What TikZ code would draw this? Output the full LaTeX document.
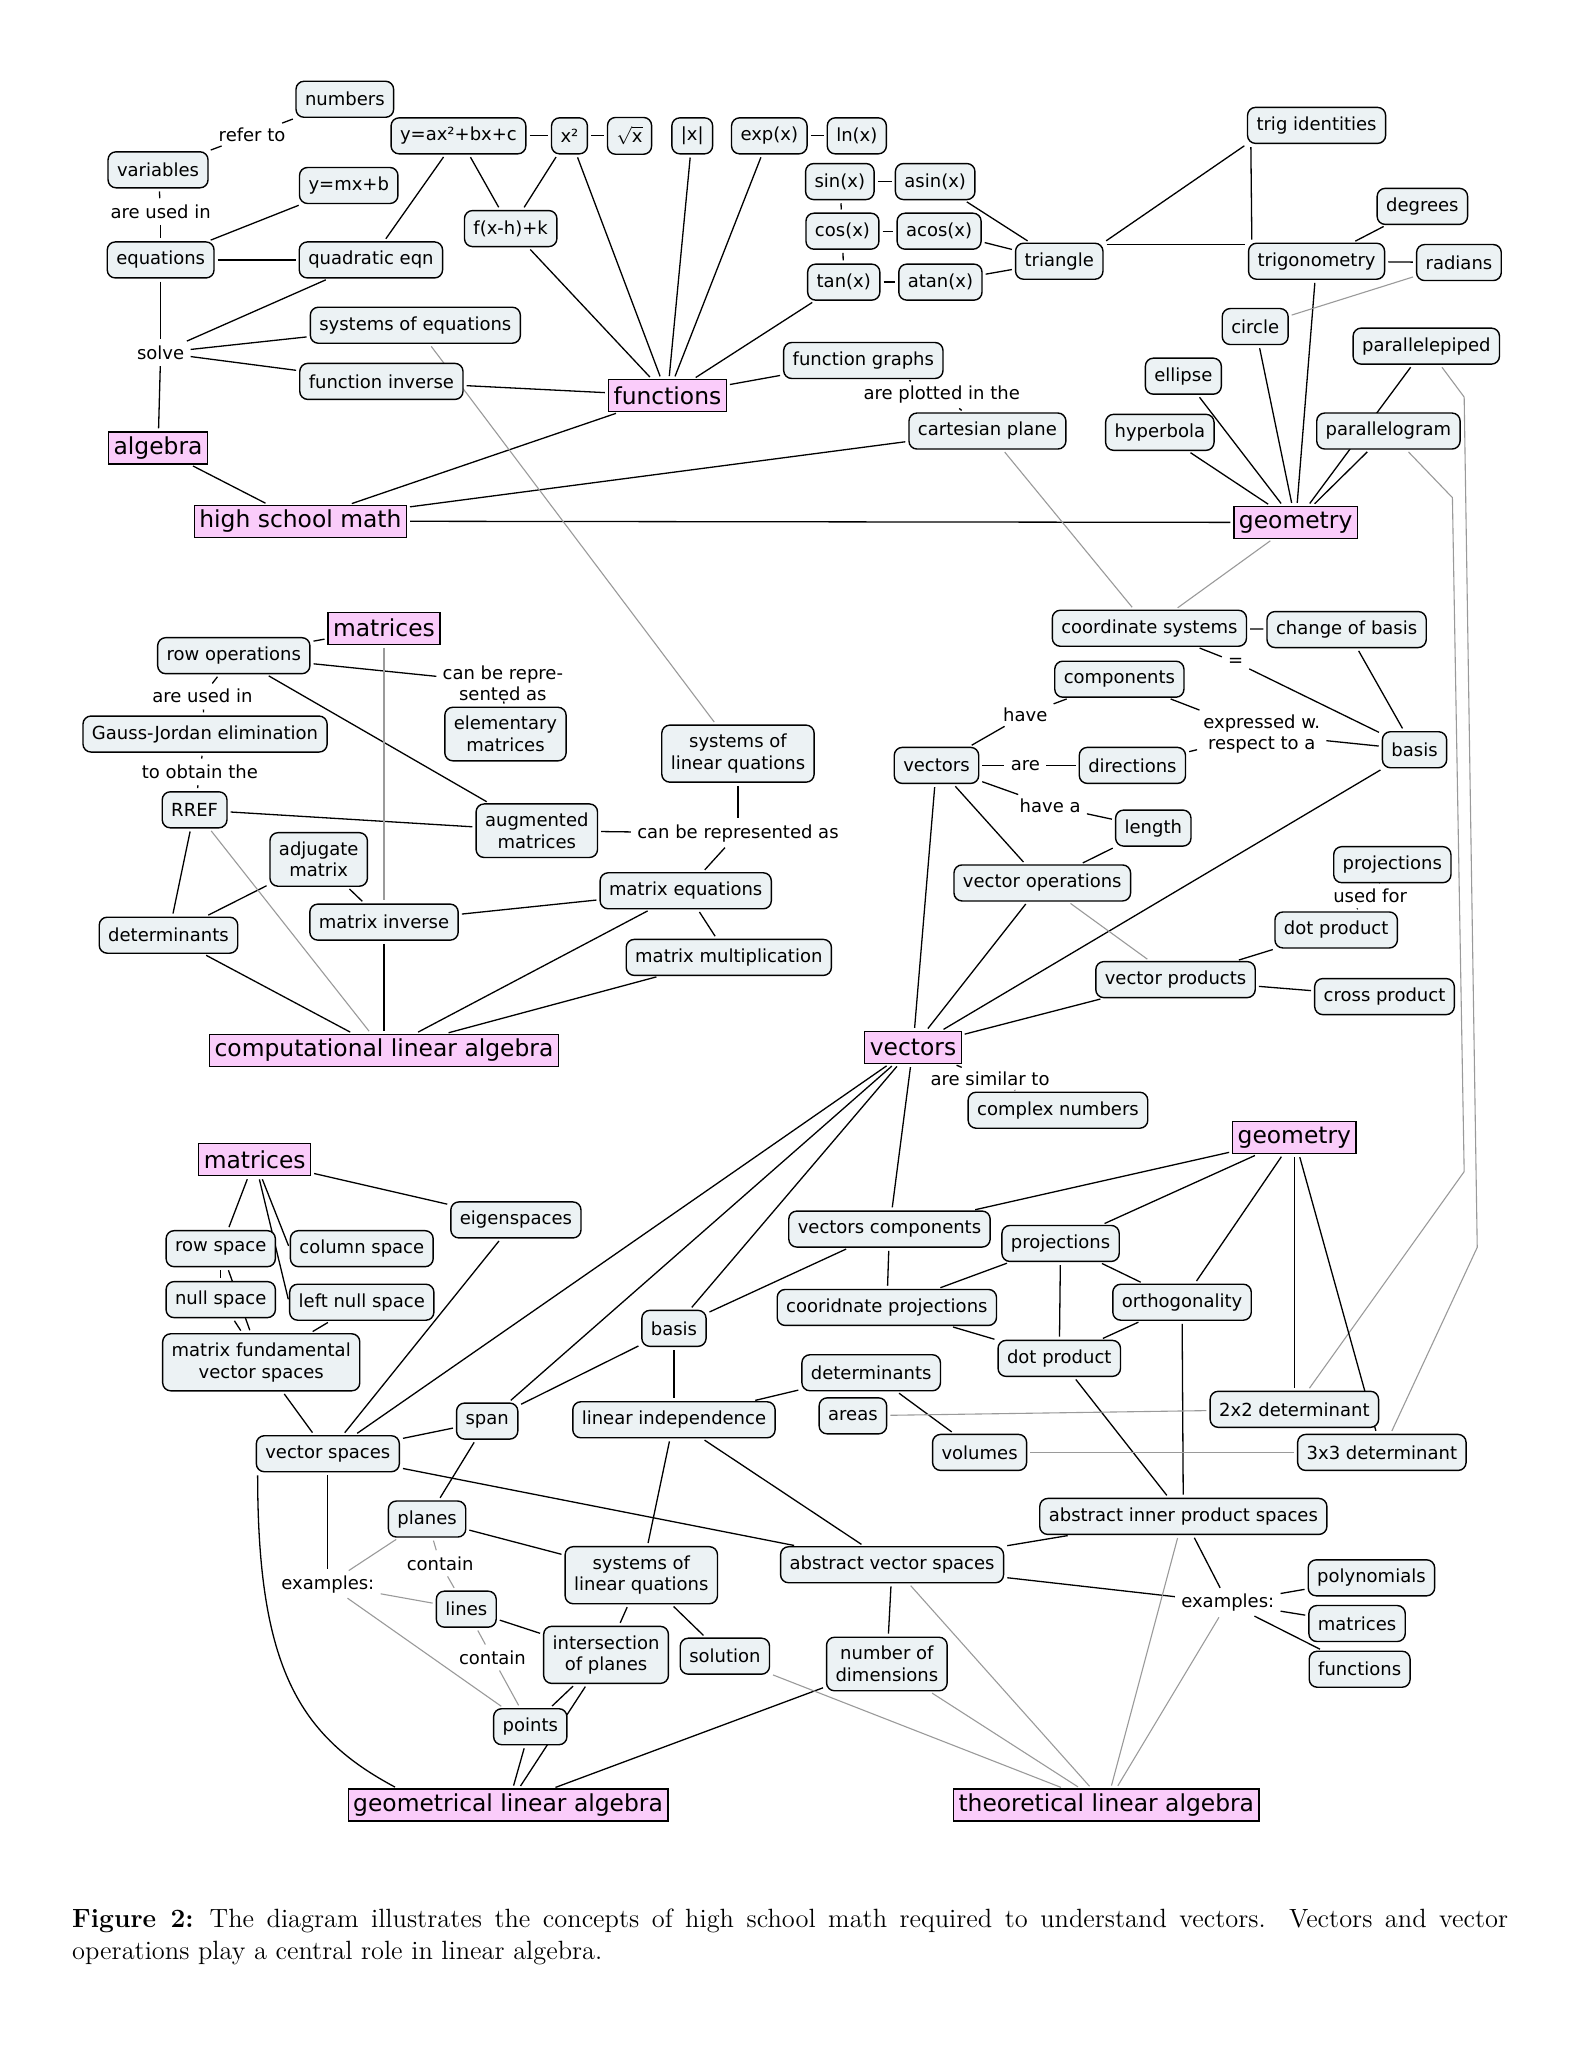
\documentclass[tikz,border=0pt]{standalone}
\usepackage{fontspec}
\usepackage{tikz}
\usetikzlibrary{backgrounds}
\newfontfamily\cmapfont{DejaVu Sans}
\definecolor{c_box}{HTML}{ECF2F4}
\definecolor{c_topic}{HTML}{FACCFA}
\definecolor{c_xlink}{HTML}{9A9A9A}
\def \ConceptFont{\cmapfont\fontsize{9}{10.8}\selectfont}
\def \TopicFont{\cmapfont\fontsize{11.7}{13}\selectfont}

\begin{document}
\begin{tikzpicture}
[x=0.6531pt, y=-0.6531pt,
 concept/.style={draw, line width=0.7pt, fill=c_box, rounded corners=4pt, font=\ConceptFont, align=center, inner xsep=4.5pt, inner ysep=4.5pt, minimum height=18pt},
 topic/.style={draw, line width=0.6pt, fill=c_topic, font=\TopicFont, inner xsep=2.5pt, inner ysep=2pt, minimum height=16pt},
 phrase/.style={font=\ConceptFont, align=center, inner sep=1.5pt},
 link/.style={line width=0.65pt, shorten <=1.5pt, shorten >=1.5pt},
 xlink/.style={link, c_xlink, line width=0.55pt}]

	\useasboundingbox (0,0) rectangle (1211,1568);

	% high school math
	\node[concept] (numbers) at (264,76) {numbers};
	\node[concept] (variables) at (121,130) {variables};
	\node[phrase] (referto) at (193,103) {refer to};
	\node[phrase] (usedinA) at (123,162) {are used in};
	\node[concept] (ymxb) at (267,142) {y=mx+b};
	\node[concept] (eqns) at (123,199) {equations};
	\node[concept] (quadeqn) at (284,199) {quadratic eqn};
	\node[concept] (yax2) at (351,104) {y=ax²+bx+c};
	\node[concept] (xsq) at (436,104) {x²};
	\node[concept] (sqrtx) at (482,104) {$\sqrt{\mbox{x}}$};
	\node[concept] (absx) at (530,104) {|x|};
	\node[concept] (expx) at (589,104) {exp(x)};
	\node[concept] (lnx) at (656,104) {ln(x)};
	\node[concept] (fxhk) at (391,175) {f(x-h)+k};
	\node[concept] (sinx) at (643,139) {sin(x)};
	\node[concept] (asinx) at (716,139) {asin(x)};
	\node[concept] (cosx) at (645,177) {cos(x)};
	\node[concept] (acosx) at (719,177) {acos(x)};
	\node[concept] (tanx) at (646,216) {tan(x)};
	\node[concept] (atanx) at (720,216) {atan(x)};
	\node[concept] (triangle) at (811,200) {triangle};
	\node[concept] (trigid) at (1008,96) {trig identities};
	\node[concept] (degrees) at (1089,158) {degrees};
	\node[concept] (trigo) at (1008,200) {trigonometry};
	\node[concept] (radians) at (1117,201) {radians};
	\node[concept] (syseq) at (318,249) {systems of equations};
	\node[phrase] (solve) at (123,270) {solve};
	\node[concept] (finv) at (292,292) {function inverse};
	\node[topic] (functions) at (511,303) {functions};
	\node[concept] (fgraphs) at (661,276) {function graphs};
	\node[phrase] (plottedin) at (721,302) {are plotted in the};
	\node[concept] (cartplane) at (756,330) {cartesian plane};
	\node[concept] (circ) at (961,250) {circle};
	\node[concept] (ellipse) at (906,288) {ellipse};
	\node[concept] (hyperbola) at (888,331) {hyperbola};
	\node[concept] (parapiped) at (1092,265) {parallelepiped};
	\node[concept] (paragram) at (1063,330) {parallelogram};
	\node[topic] (algebra) at (121,343) {algebra};
	\node[topic] (hsmath) at (230,399) {high school math};
	\node[topic] (geomA) at (992,400) {geometry};

	% computational linear algebra
	\node[topic] (matA) at (294,481) {matrices};
	\node[concept] (rowops) at (179,502) {row operations};
	\node[phrase] (usedinB) at (155,533) {are used in};
	\node[phrase] (reprA) at (385,523) {can be repre-\\sented as};
	\node[concept] (elemmat) at (387,562) {elementary\\matrices};
	\node[concept] (gaussjordan) at (157,562) {Gauss-Jordan elimination};
	\node[phrase] (obtain) at (153,591) {to obtain the};
	\node[concept] (rref) at (149,620) {RREF};
	\node[concept] (syslinA) at (565,577) {systems of\\linear quations};
	\node[concept] (augmat) at (411,636) {augmented\\matrices};
	\node[phrase] (reprB) at (565,638) {can be represented as};
	\node[concept] (adjugate) at (244,658) {adjugate\\matrix};
	\node[concept] (mateqns) at (525,682) {matrix equations};
	\node[concept] (detsA) at (129,716) {determinants};
	\node[concept] (matinv) at (294,706) {matrix inverse};
	\node[concept] (matmult) at (558,733) {matrix multiplication};
	\node[topic] (complinalg) at (294,804) {computational linear algebra};

	% vectors
	\node[concept] (coordsys) at (880,481) {coordinate systems};
	\node[concept] (changebasis) at (1031,482) {change of basis};
	\node[phrase] (equalsph) at (946,507) {=};
	\node[concept] (components) at (857,520) {components};
	\node[phrase] (haveph) at (785,547) {have};
	\node[phrase] (expressed) at (966,562) {expressed w.\\respect to a};
	\node[concept] (basisA) at (1083,574) {basis};
	\node[concept] (vecsmall) at (717,586) {vectors};
	\node[phrase] (areph) at (785,586) {are};
	\node[concept] (directions) at (867,586) {directions};
	\node[phrase] (haveaph) at (804,617) {have a};
	\node[concept] (length) at (883,634) {length};
	\node[concept] (vecops) at (798,676) {vector operations};
	\node[concept] (projA) at (1066,662) {projections};
	\node[phrase] (usedfor) at (1049,686) {used for};
	\node[concept] (dotA) at (1023,712) {dot product};
	\node[concept] (vecprod) at (900,750) {vector products};
	\node[concept] (crossprod) at (1060,763) {cross product};
	\node[topic] (vectors) at (699,802) {vectors};
	\node[phrase] (similar) at (758,826) {are similar to};
	\node[concept] (complexnum) at (810,850) {complex numbers};

	% geometrical linear algebra
	\node[topic] (matB) at (195,888) {matrices};
	\node[concept] (eigen) at (395,934) {eigenspaces};
	\node[concept] (rowspace) at (169,956) {row space};
	\node[concept] (colspace) at (277,956) {column space};
	\node[concept] (nullspace) at (169,995) {null space};
	\node[concept] (leftnull) at (277,997) {left null space};
	\node[concept] (fundamental) at (200,1043) {matrix fundamental\\vector spaces};
	\node[concept] (vspaces) at (251,1113) {vector spaces};
	\node[concept] (span) at (373,1088) {span};
	\node[concept] (basisB) at (516,1017) {basis};
	\node[concept] (linindep) at (516,1087) {linear independence};
	\node[concept] (planes) at (327,1163) {planes};
	\node[phrase] (containA) at (337,1197) {contain};
	\node[phrase] (examplesA) at (251,1213) {examples:};
	\node[concept] (lines) at (357,1232) {lines};
	\node[phrase] (containB) at (377,1269) {contain};
	\node[concept] (syslinB) at (491,1206) {systems of\\linear quations};
	\node[concept] (intersect) at (464,1267) {intersection\\of planes};
	\node[concept] (solution) at (555,1268) {solution};
	\node[concept] (points) at (406,1322) {points};
	\node[topic] (geolin) at (389,1382) {geometrical linear algebra};

	% theoretical linear algebra
	\node[topic] (geomB) at (991,871) {geometry};
	\node[concept] (veccomp) at (681,941) {vectors components};
	\node[concept] (projB) at (812,952) {projections};
	\node[concept] (coordproj) at (679,1001) {cooridnate projections};
	\node[concept] (ortho) at (905,997) {orthogonality};
	\node[concept] (dotB) at (811,1040) {dot product};
	\node[concept] (detsB) at (667,1051) {determinants};
	\node[concept] (areas) at (653,1084) {areas};
	\node[concept] (volumes) at (750,1112) {volumes};
	\node[concept] (dettwo) at (991,1079) {2x2 determinant};
	\node[concept] (detthree) at (1058,1112) {3x3 determinant};
	\node[concept] (innerprod) at (906,1161) {abstract inner product spaces};
	\node[concept] (absvec) at (683,1198) {abstract vector spaces};
	\node[phrase] (examplesB) at (940,1227) {examples:};
	\node[concept] (polys) at (1050,1208) {polynomials};
	\node[concept] (matC) at (1039,1243) {matrices};
	\node[concept] (funcs) at (1041,1278) {functions};
	\node[concept] (numdim) at (679,1274) {number of\\dimensions};
	\node[topic] (theolin) at (847,1382) {theoretical linear algebra};

	\coordinate (gramBendA) at (1112,381);
	\coordinate (gramBendB) at (1121,897);
	\coordinate (pipedBendA) at (1121,304);
	\coordinate (pipedBendB) at (1131,955);

	\node[anchor=base west, text width=718pt, align=justify, inner sep=0pt, font=\fontsize{13.2}{15.6}\selectfont] (caption) at (55,1476)
		{\textbf{Figure 2:}\hskip 0.6em The diagram illustrates the concepts of high school math required to understand vectors.  Vectors and vector\linebreak operations play a central role in linear algebra.};

	\begin{scope}[on background layer]
	\fill[white] (0,0) rectangle (1211,1568);

	% top part
	\foreach \a/\b in {variables/referto, referto/numbers, variables/usedinA, usedinA/eqns,
		eqns/ymxb, eqns/quadeqn, quadeqn/yax2, yax2/fxhk, xsq/fxhk, yax2/xsq, xsq/sqrtx,
		expx/lnx, sinx/asinx, cosx/acosx, tanx/atanx, sinx/cosx, cosx/tanx,
		asinx/triangle, acosx/triangle, atanx/triangle, trigo/degrees, trigo/radians,
		eqns/solve, solve/algebra, solve/quadeqn, solve/syseq, solve/finv,
		functions/fgraphs, fgraphs/plottedin, plottedin/cartplane,
		algebra/hsmath, cartplane/hsmath, hsmath/geomA}
		\draw[link] (\a) -- (\b);
	\foreach \n in {xsq, fxhk, absx, expx, tanx, finv, hsmath}
		\draw[link] (\n) -- (functions);
	\foreach \n in {circ, ellipse, hyperbola, trigo, paragram, parapiped}
		\draw[link] (\n) -- (geomA);
	\draw[link] (triangle.north east) -- (trigid.south west);
	\draw[link] ([yshift=-1pt]triangle.north east) -- ([yshift=-1pt]trigo.north west);
	\draw[link] ([xshift=2pt]trigid.south west) -- ([xshift=2pt]trigo.north west);
	\draw[xlink] (radians) -- (circ);
	\draw[xlink] (cartplane) -- (coordsys);
	\draw[xlink] (geomA) -- (coordsys);
	\draw[xlink] (syseq) -- (syslinA);
	\draw[xlink] (paragram) -- (gramBendA) -- (gramBendB) -- (dettwo);
	\draw[xlink] (parapiped) -- (pipedBendA) -- (pipedBendB) -- (detthree);

	% matrices
	\foreach \a/\b in {matA/rowops, rowops/reprA, reprA/elemmat, rowops/augmat,
		rowops/usedinB, usedinB/gaussjordan, gaussjordan/obtain, obtain/rref,
		rref/augmat, rref/detsA, adjugate/detsA, adjugate/matinv, matinv/mateqns,
		mateqns/matmult, augmat/reprB, syslinA/reprB, reprB/mateqns}
		\draw[link] (\a) -- (\b);
	\foreach \n in {detsA, matinv, mateqns, matmult}
		\draw[link] (\n) -- (complinalg);
	\draw[xlink] (matA) -- (matinv);
	\draw[xlink] (rref) -- (complinalg);

	% vectors
	\foreach \a/\b in {coordsys/changebasis, coordsys/equalsph, equalsph/basisA, changebasis/basisA,
		components/expressed, directions/expressed, expressed/basisA,
		vecsmall/haveph, haveph/components, vecsmall/areph, areph/directions,
		vecsmall/haveaph, haveaph/length, vecsmall/vecops, length/vecops,
		vecprod/dotA, vecprod/crossprod, projA/usedfor, usedfor/dotA,
		vectors/similar, similar/complexnum}
		\draw[link] (\a) -- (\b);
	\foreach \n in {vecsmall, vecops, basisA, vecprod}
		\draw[link] (\n) -- (vectors);
	\draw[xlink] (vecops) -- (vecprod);

	% lower part
	\foreach \n in {vspaces, span, basisB, veccomp}
		\draw[link] (vectors) -- (\n);
	\draw[link] (matB) -- (rowspace);
	\draw[link] (matB) -- (colspace.west);
	\draw[link] (matB) -- (leftnull.west);
	\draw[link] (matB) -- (eigen);
	\foreach \a/\b in {rowspace/nullspace, rowspace/fundamental, nullspace/fundamental,
		leftnull/fundamental, fundamental/vspaces, eigen/vspaces, span/vspaces,
		basisB/span, basisB/linindep, basisB/veccomp, linindep/detsB, detsB/volumes,
		span/planes, vspaces/absvec, vspaces/examplesA, planes/syslinB,
		linindep/syslinB, linindep/absvec, lines/intersect, syslinB/intersect,
		syslinB/solution, intersect/points, intersect/geolin, points/geolin,
		numdim/geolin, absvec/numdim, absvec/examplesB, absvec/innerprod,
		innerprod/examplesB, examplesB/polys, examplesB/matC, examplesB/funcs,
		dotB/innerprod, ortho/innerprod}
		\draw[link] (\a) -- (\b);
	\foreach \n in {veccomp, projB, ortho, dettwo, detthree}
		\draw[link] (geomB) -- (\n);
	\foreach \a/\b in {veccomp/coordproj, projB/coordproj, projB/dotB, projB/ortho,
		ortho/dotB, coordproj/dotB}
		\draw[link] (\a) -- (\b);
	\draw[link] ([xshift=1pt]vspaces.south west) .. controls +(0,150) and +(-75,-40) .. ([xshift=25pt]geolin.north west);

	\foreach \a/\b in {examplesA/planes, examplesA/lines, examplesA/points,
		planes/containA, containA/lines, lines/containB, containB/points,
		areas/dettwo, volumes/detthree}
		\draw[xlink] (\a) -- (\b);
	\foreach \n in {solution, numdim, absvec, innerprod, examplesB}
		\draw[xlink] (\n) -- (theolin);
	\end{scope}

\end{tikzpicture}
\end{document}
